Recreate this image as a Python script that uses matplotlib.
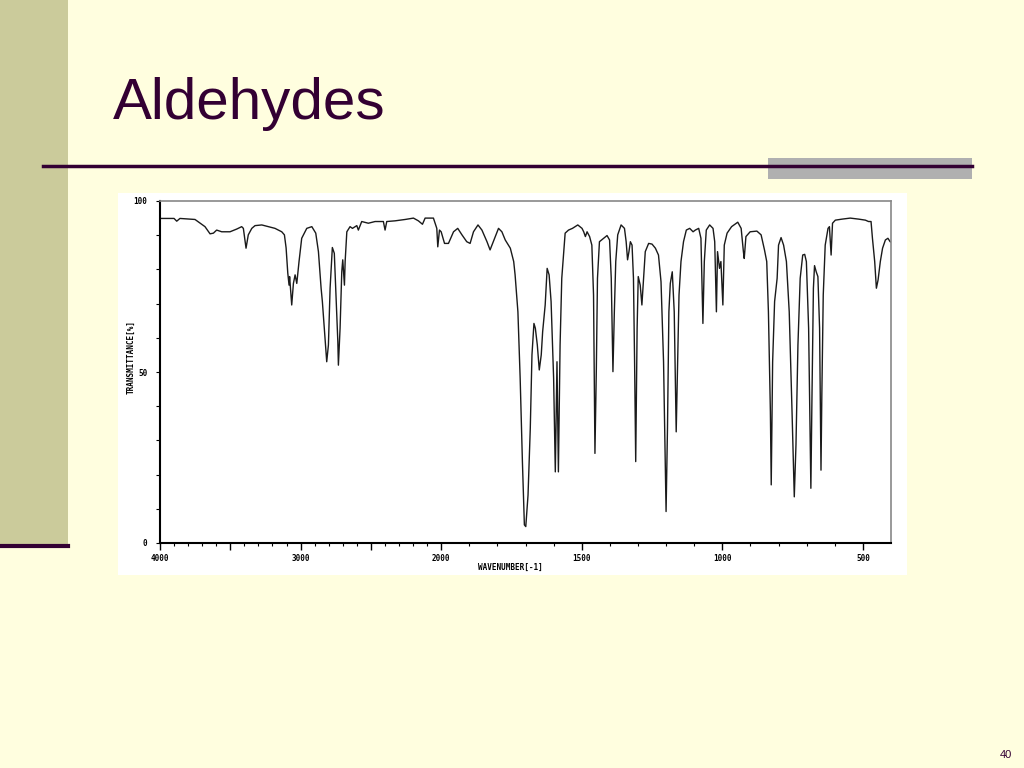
import numpy as np
import matplotlib
matplotlib.use("Agg")
import matplotlib.pyplot as plt
from matplotlib.patches import Rectangle
from matplotlib.lines import Line2D

# IR spectrum (benzaldehyde): wavenumber (cm-1) and %T
wavenumber = [
    4000, 3900, 3881, 3858, 3751, 3680, 3644, 3620, 3597, 3561, 3502, 3454, 3419, 3407,
    3388, 3372, 3347, 3324, 3276, 3229, 3182, 3134, 3115, 3103, 3091, 3082, 3078, 3063,
    3051, 3039, 3027, 3011, 2992, 2956, 2920, 2892, 2873, 2854, 2845, 2831, 2814, 2802,
    2790, 2774, 2760, 2750, 2735, 2731, 2719, 2707, 2700, 2688, 2683, 2671, 2648, 2631,
    2600, 2589, 2565, 2518, 2470, 2411, 2399, 2387, 2328, 2256, 2197, 2162, 2133, 2114,
    2055, 2031, 2024, 2012, 2000,
    1988, 1974, 1956, 1941, 1926, 1909, 1897, 1885, 1869, 1855, 1837, 1826, 1810, 1796,
    1784, 1772, 1754, 1742, 1737, 1727, 1719, 1711, 1704, 1699, 1691, 1683, 1677, 1670,
    1665, 1658, 1651, 1644, 1639, 1630, 1623, 1616, 1609, 1600, 1594, 1588, 1583, 1577,
    1571, 1559, 1547, 1533, 1514, 1499, 1493, 1487, 1481, 1472, 1464, 1458, 1453, 1448,
    1444, 1437, 1422, 1410, 1401, 1395, 1389, 1384, 1379, 1372, 1360, 1348, 1342, 1337,
    1332, 1327, 1321, 1316, 1312, 1308, 1303, 1299, 1292, 1286, 1280, 1274, 1262, 1250,
    1238, 1227, 1218, 1209, 1203, 1200, 1195, 1190, 1185, 1178, 1171, 1166, 1164, 1159,
    1154, 1147, 1138, 1128, 1116, 1104, 1096, 1084, 1076, 1069, 1064, 1057, 1045, 1033,
    1027, 1021, 1017, 1010, 1005, 998, 993, 983, 967, 945, 933, 925, 922, 916, 901, 877,
    862, 850, 842, 836, 829, 826, 821, 814, 805, 800, 791, 782, 772, 762, 752, 744, 738,
    731, 723, 714, 707, 701, 693, 688, 685, 681, 676, 672, 666, 660, 654, 649, 646, 641,
    634, 624, 619, 613, 608, 598, 574, 545, 515, 491, 480, 471, 466, 458, 452, 446, 438,
    430, 420, 411, 403, 400,
]
transmittance = [
    94.9, 94.9, 94.1, 94.9, 94.6, 92.5, 90.4, 90.6, 91.5, 91.0, 91.0, 91.8, 92.5, 92.0,
    86.2, 90.1, 92.0, 92.8, 93.0, 92.5, 92.0, 91.0, 90.1, 86.3, 78.9, 75.4, 77.9, 69.6,
    75.9, 78.4, 75.9, 82.3, 89.1, 92.0, 92.5, 90.6, 85.2, 74.5, 70.6, 62.8, 53.0, 57.9,
    74.5, 86.4, 84.7, 74.5, 58.9, 52.0, 62.8, 79.3, 82.8, 75.4, 82.3, 91.0, 92.5, 92.0,
    92.8, 91.5, 94.0, 93.5, 94.0, 94.0, 91.5, 94.0, 94.2, 94.6, 95.0, 94.2, 93.2, 95.0,
    95.0, 92.0, 86.6, 91.5, 91.0,
    87.6, 87.6, 91.0, 92.0, 90.1, 88.1, 87.6, 91.0, 93.0, 91.5, 88.1, 85.7, 89.1, 92.0,
    91.0, 88.6, 86.2, 82.3, 78.4, 67.6, 48.2, 23.8, 5.3, 4.8, 14.0, 33.5, 55.0, 64.2,
    62.8, 57.9, 50.6, 55.0, 61.8, 69.6, 80.3, 78.4, 70.6, 48.2, 20.8, 53.0, 20.8, 57.9,
    77.4, 90.6, 91.5, 92.0, 93.0, 92.0, 91.0, 89.6, 91.0, 89.6, 87.1, 72.5, 26.2, 51.1,
    77.4, 88.1, 89.1, 89.9, 88.6, 77.4, 50.1, 67.6, 82.3, 90.1, 93.0, 92.0, 88.1, 82.8,
    85.2, 88.1, 87.1, 77.4, 53.0, 23.8, 62.8, 77.9, 75.4, 69.6, 77.4, 85.2, 87.6, 87.4,
    86.2, 84.2, 76.4, 53.0, 23.8, 9.2, 33.5, 67.6, 75.9, 79.3, 67.6, 43.3, 32.5, 53.0,
    72.5, 82.3, 88.1, 91.5, 92.0, 91.0, 91.5, 92.0, 89.1, 64.2, 82.3, 91.5, 93.0, 92.0,
    88.1, 67.6, 85.2, 80.3, 82.3, 69.6, 87.1, 90.6, 92.5, 93.8, 92.0, 85.2, 83.2, 89.6, 91.0, 91.2,
    90.1, 85.7, 82.3, 67.6, 38.4, 17.0, 53.0, 70.6, 77.4, 87.1, 89.3, 87.1, 82.3, 67.6, 38.4, 13.5, 28.7,
    57.9, 77.4, 84.2, 84.4, 82.3, 62.8, 33.5, 16.0, 43.3, 74.5, 81.1, 79.3, 77.9, 62.8, 21.3, 43.3, 72.5,
    87.1, 92.0, 92.5, 84.2, 93.5, 94.4, 94.7, 95.0, 94.7, 94.4, 94.0, 94.0, 89.1, 82.3, 74.5, 76.9, 82.3,
    86.2, 88.6, 89.1, 88.1, 88.0,
]

x_major = [4000, 3500, 3000, 2500, 2000, 1500, 1000, 500]
x_major_labels = ["4000", "", "3000", "", "2000", "1500", "1000", "500"]
x_minor = list(range(3900, 400, -100))
y_ticks = list(range(0, 101, 10))
y_labels = ["0", "", "", "", "", "50", "", "", "", "", "100"]


# below 2000 cm-1 the chart uses twice the scale
def fwd(w):
    w = np.asarray(w, dtype=float)
    return np.where(w >= 2000, w, 2 * w - 2000)


def inv(p):
    p = np.asarray(p, dtype=float)
    return np.where(p >= 2000, p, (p + 2000) / 2)


W, H = 1024, 768
fig = plt.figure(figsize=(10.24, 7.68), dpi=100)
fig.patch.set_facecolor("#FFFEDF")


def box(px, py, w, h, color, z=-2):
    fig.add_artist(Rectangle((px / W, 1 - (py + h) / H), w / W, h / H,
                             transform=fig.transFigure, facecolor=color,
                             edgecolor="none", zorder=z))


box(0, 0, 68, 546, "#CBCB9B")
fig.add_artist(Line2D([0, 68 / W], [1 - 546 / H] * 2, color="#330033", lw=3,
                      transform=fig.transFigure, zorder=-1))
box(768, 158, 204, 21, "#B0B0B0")
fig.add_artist(Line2D([43 / W, 972 / W], [1 - 166 / H] * 2, color="#330033", lw=2.5,
                      transform=fig.transFigure, zorder=-1))
box(118, 193, 789, 382, "white")

fig.text(113 / W, 1 - 119 / H, "Aldehydes", fontsize=42, color="#330033",
         family="Liberation Sans", ha="left", va="baseline")
fig.text(1006 / W, 1 - 755 / H, "40", fontsize=8, color="#330033",
         family="Liberation Sans", ha="center", va="center")

ax = fig.add_axes([160 / W, 1 - 543 / H, 731 / W, 342 / H])
ax.set_facecolor("white")
ax.set_xscale("function", functions=(fwd, inv))
ax.plot(wavenumber, transmittance, color="#1a1a1a", lw=1)
ax.set_xlim(4000, 400)
ax.set_ylim(0, 100)

tick_font = dict(family="DejaVu Sans Mono", fontsize=5.5, fontweight="bold")
ax.set_xticks(x_major, x_major_labels, **tick_font)
ax.set_xticks(x_minor, minor=True)
ax.set_yticks(y_ticks, y_labels, **tick_font)
ax.tick_params(axis="x", which="major", direction="out", length=5, width=1, pad=3)
ax.tick_params(axis="x", which="minor", direction="out", length=2.5, width=0.8)
ax.tick_params(axis="y", which="major", direction="out", length=3, width=0.8, pad=6)

for side in ["left", "bottom"]:
    ax.spines[side].set_color("black")
    ax.spines[side].set_linewidth(1.5)
for side in ["top", "right"]:
    ax.spines[side].set_color("#888888")
    ax.spines[side].set_linewidth(1.2)

fig.text(131 / W, 1 - 357 / H, "TRANSMITTANCE[%]", rotation=90, ha="center",
         va="center", **tick_font)
fig.text(478 / W, 1 - 567 / H, "WAVENUMBER[-1]", ha="left", va="center", **tick_font)

fig.savefig("out.png", dpi=100, facecolor=fig.get_facecolor())
